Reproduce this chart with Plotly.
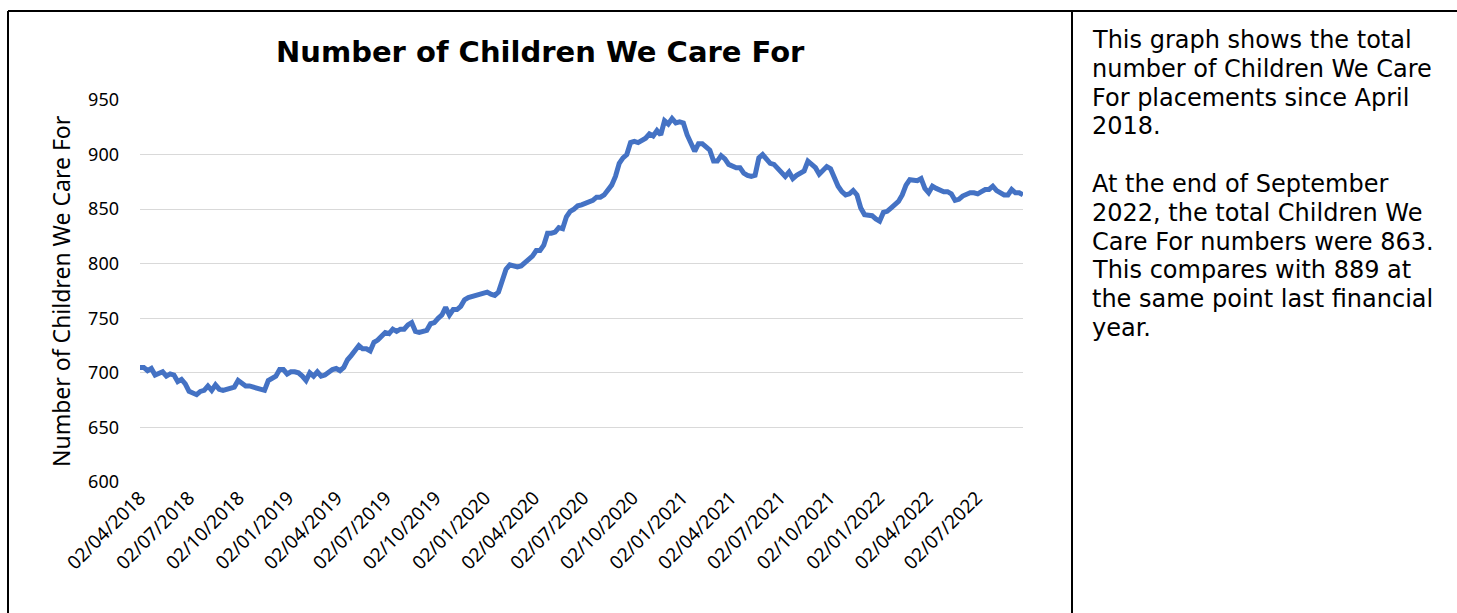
import pandas as pd
import plotly.graph_objects as go

start_date = "2018-04-02"
values = [
    705, 705, 702, 704, 698, 700, 701, 697, 699, 698,
    692, 694, 690, 683, 681, 680, 683, 684, 688, 684,
    689, 685, 684, 685, 686, 687, 693, 690, 688, 688,
    687, 685, 684, 684, 693, 695, 697, 703, 703, 699,
    701, 701, 700, 697, 693, 700, 697, 701, 697, 698,
    701, 703, 704, 702, 705, 712, 716, 721, 725, 722,
    722, 720, 728, 730, 733, 737, 736, 740, 738, 740,
    740, 744, 746, 738, 737, 738, 739, 745, 746, 750,
    753, 760, 753, 758, 758, 761, 767, 769, 770, 772,
    773, 773, 774, 772, 771, 774, 786, 795, 799, 798,
    797, 798, 801, 804, 807, 812, 812, 817, 828, 828,
    829, 833, 832, 843, 848, 850, 853, 854, 855, 857,
    858, 861, 861, 863, 867, 872, 880, 892, 897, 900,
    911, 912, 911, 913, 915, 919, 917, 922, 918, 931,
    928, 933, 929, 930, 929, 918, 910, 903, 910, 910,
    907, 904, 894, 894, 899, 896, 891, 889, 888, 888,
    883, 881, 880, 881, 897, 900, 896, 892, 891, 887,
    883, 880, 884, 878, 881, 883, 885, 894, 891, 888,
    882, 886, 889, 887, 878, 871, 866, 863, 864, 867,
    863, 851, 845, 845, 844, 841, 839, 847, 848, 851,
    854, 857, 863, 872, 877, 876, 876, 878, 869, 865,
    871, 869, 867, 866, 866, 864, 858, 859, 862, 864,
    865, 865, 864, 866, 868, 868, 871, 867, 865, 863,
    863, 868, 865, 865, 863,
]
tick_dates = [
    "2018-04-02", "2018-07-02", "2018-10-02", "2019-01-02", "2019-04-02",
    "2019-07-02", "2019-10-02", "2020-01-02", "2020-04-02", "2020-07-02",
    "2020-10-02", "2021-01-02", "2021-04-02", "2021-07-02", "2021-10-02",
    "2022-01-02", "2022-04-02", "2022-07-02",
]
y_ticks = [600, 650, 700, 750, 800, 850, 900, 950]
title_text = "Number of Children We Care For"
y_title = "Number of Children We Care For"
panel_lines = [
    "This graph shows the total",
    "number of Children We Care",
    "For placements since April",
    "2018.",
    "",
    "At the end of September",
    "2022, the total Children We",
    "Care For numbers were 863.",
    "This compares with 889 at",
    "the same point last financial",
    "year.",
]

dates = pd.date_range(start_date, periods=len(values), freq="7D")

W, H = 1457, 613
L, R, T, B = 140, 1023, 100, 482


def px(x):
    return (x - L) / (R - L)


def py(y):
    return (B - y) / (B - T)


fig = go.Figure()
fig.add_trace(go.Scatter(
    x=dates, y=values, mode="lines",
    line=dict(color="#4472C4", width=5, shape="linear"),
    hoverinfo="x+y", showlegend=False,
))

fig.update_layout(
    width=W, height=H,
    margin=dict(l=L, r=W - R, t=T, b=H - B, pad=0),
    paper_bgcolor="white", plot_bgcolor="white",
    font=dict(family="Noto Sans, DejaVu Sans, sans-serif", color="black"),
    xaxis=dict(
        type="date",
        range=[dates[0], dates[-1]],
        tickvals=tick_dates,
        tickformat="%d/%m/%Y",
        tickangle=-45,
        showgrid=False,
        zeroline=False,
        showline=False,
        ticks="",
        tickfont=dict(size=19, family="Noto Sans"),
        fixedrange=True,
    ),
    yaxis=dict(
        range=[600, 950],
        tickvals=y_ticks,
        showgrid=True, gridcolor="#D9D9D9", gridwidth=1.3,
        zeroline=False, showline=False, ticks="",
        tickfont=dict(size=18, family="Noto Sans"),
        ticklabelstandoff=20,
        fixedrange=True,
    ),
)

# Title
fig.add_annotation(
    xref="paper", yref="paper", x=px(540), y=py(52),
    text="<b>" + title_text + "</b>", showarrow=False,
    xanchor="center", yanchor="middle",
    font=dict(family="DejaVu Sans", size=29, color="black"),
)
# Y axis title
fig.add_annotation(
    xref="paper", yref="paper", x=px(61), y=py(291),
    text=y_title, textangle=-90, showarrow=False,
    xanchor="center", yanchor="middle",
    font=dict(family="Noto Sans", size=23, color="black"),
)
# Side panel text, one line per annotation
for i, line in enumerate(panel_lines):
    if not line:
        continue
    fig.add_annotation(
        xref="paper", yref="paper", x=px(1090), y=py(40 + 28.8 * i),
        text=line, showarrow=False, align="left",
        xanchor="left", yanchor="middle",
        font=dict(family="DejaVu Sans", size=24, color="black"),
    )

# Table borders
border = dict(color="black", width=2)
fig.add_shape(type="line", xref="paper", yref="paper",
              x0=px(8), x1=px(1470), y0=py(11), y1=py(11), line=border)
fig.add_shape(type="line", xref="paper", yref="paper",
              x0=px(8), x1=px(8), y0=py(11), y1=py(640), line=border)
fig.add_shape(type="line", xref="paper", yref="paper",
              x0=px(1072), x1=px(1072), y0=py(11), y1=py(640), line=border)

fig.write_html("out.html")
